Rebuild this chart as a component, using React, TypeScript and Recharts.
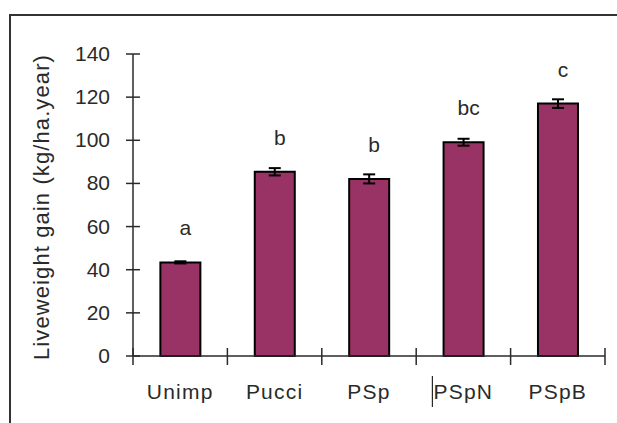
import { BarChart, Bar, XAxis, YAxis, ErrorBar, LabelList } from 'recharts';

const treatments = ['Unimp', 'Pucci', 'PSp', 'PSpN', 'PSpB'];
const gain = [43.4, 85.4, 82.1, 99.1, 117.0];
const stdErr = [0.5, 1.7, 2.1, 1.6, 2.0];
const letters = ['a', 'b', 'b', 'bc', 'c'];
const yTicks = [0, 20, 40, 60, 80, 100, 120, 140];

const data = treatments.map((name, i) => ({
  name,
  gain: gain[i],
  err: stdErr[i],
  letter: letters[i],
}));

const FONT = '"Liberation Sans", Arial, sans-serif';
const INK = '#2a2a2a';

const YTick = (props: any) => {
  const { x, y, payload } = props;
  const ax = x + 23;
  return (
    <g>
      <line x1={ax - 7} x2={ax + 7} y1={y} y2={y} stroke={INK} strokeWidth={1.5} />
      <text x={x} y={y} dy={7} textAnchor="end" fontSize={21} fontFamily={FONT} fill={INK}>
        {payload.value}
      </text>
    </g>
  );
};

const XTick = (props: any) => {
  const { x, y, payload, index } = props;
  const half = payload.offset ?? 47;
  // y arrives 8px below the axis line (default tickSize + tickMargin)
  const ay = y - 8;
  return (
    <g>
      <line x1={x - half} x2={x - half} y1={ay - 8} y2={ay + 9} stroke={INK} strokeWidth={1.5} />
      {index === treatments.length - 1 && (
        <line x1={x + half} x2={x + half} y1={ay - 8} y2={ay + 9} stroke={INK} strokeWidth={1.5} />
      )}
      {payload.value === 'PSpN' && (
        <line x1={x - 31} x2={x - 31} y1={ay + 20} y2={ay + 51} stroke={INK} strokeWidth={1.2} />
      )}
      <text
        x={x}
        y={ay}
        dy={43}
        textAnchor="middle"
        fontSize={21}
        letterSpacing={1.2}
        fontFamily={FONT}
        fill={INK}
      >
        {payload.value}
      </text>
    </g>
  );
};

const YLabel = (props: any) => {
  const { viewBox } = props;
  const cx = viewBox.x + 41;
  const cy = viewBox.y + viewBox.height / 2 + 2;
  return (
    <text
      x={cx}
      y={cy}
      transform={`rotate(-90, ${cx}, ${cy})`}
      textAnchor="middle"
      dominantBaseline="central"
      fontSize={22}
      letterSpacing={1.1}
      fontFamily={FONT}
      fill={INK}
    >
      Liveweight gain (kg/ha.year)
    </text>
  );
};

const App = () => {
  return (
    <div style={{ position: 'absolute', left: 0, top: 0, width: 617, height: 423, overflow: 'hidden', background: '#fff' }}>
      <div
        style={{
          position: 'absolute',
          left: 9,
          top: 14,
          width: 700,
          height: 500,
          borderTop: '2px solid #333',
          borderLeft: '2px solid #333',
        }}
      />
      <BarChart
        width={617}
        height={423}
        data={data}
        margin={{ top: 54, right: 12, bottom: 0, left: 0 }}
        barCategoryGap="29%"
        style={{ position: 'absolute', left: 0, top: 0 }}
      >
        <XAxis
          dataKey="name"
          height={67}
          tickLine={false}
          axisLine={{ stroke: INK, strokeWidth: 1.5 }}
          tick={<XTick />}
          interval={0}
        />
        <YAxis
          width={133}
          domain={[0, 140]}
          ticks={yTicks}
          interval={0}
          tickLine={false}
          tickSize={0}
          tickMargin={23}
          axisLine={{ stroke: INK, strokeWidth: 1.5 }}
          tick={<YTick />}
          label={<YLabel />}
        />
        <Bar dataKey="gain" fill="#993366" stroke="#000" strokeWidth={2} isAnimationActive={false}>
          <ErrorBar dataKey="err" width={6} stroke="#000" strokeWidth={2} />
          <LabelList
            dataKey="letter"
            position="top"
            offset={27}
            dx={5}
            fontSize={21}
            fontFamily={FONT}
            fill={INK}
          />
        </Bar>
      </BarChart>
    </div>
  );
};

export default App;
